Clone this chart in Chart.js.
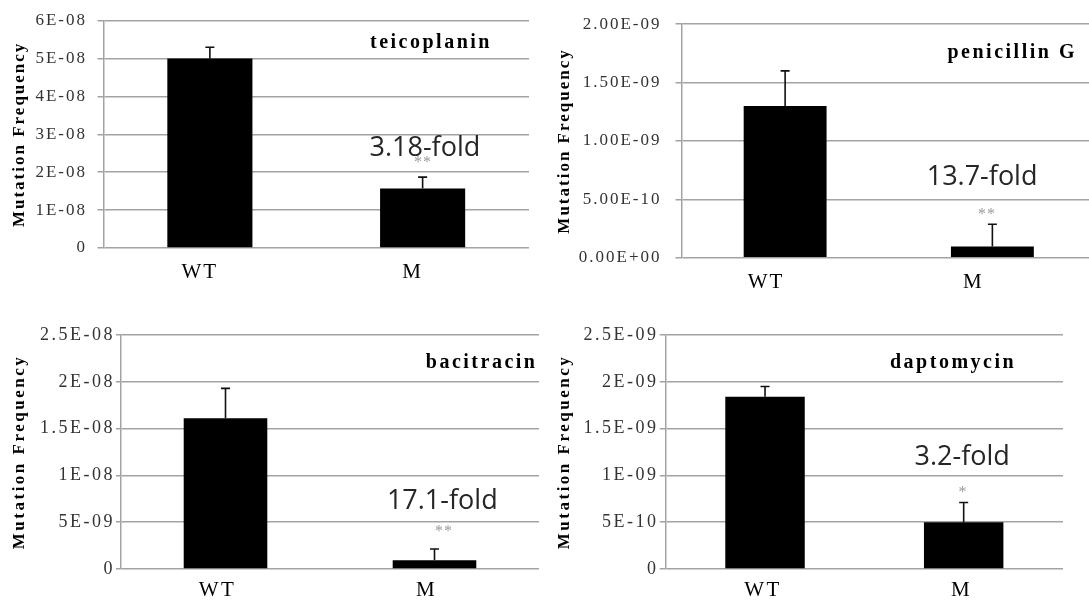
<!DOCTYPE html>
<html>
<head>
<meta charset="utf-8">
<script src="https://cdn.jsdelivr.net/npm/chart.js@4.4.1/dist/chart.umd.min.js"></script>
<style>
  html, body { margin: 0; padding: 0; background: #fff; overflow: hidden; width: 1089px; height: 604px; }
  canvas { position: absolute; }
</style>
</head>
<body>
<canvas id="teico" width="545" height="300" style="left:0;top:0"></canvas>
<canvas id="peni" width="551" height="300" style="left:545px;top:0"></canvas>
<canvas id="baci" width="545" height="304" style="left:0;top:300px"></canvas>
<canvas id="dapto" width="544" height="304" style="left:545px;top:300px"></canvas>
<script>
// Strains on the category axis
const groups = ['WT', 'M'];

// Mutation frequency (mean) and upper error (SD) per antibiotic
const teicoplaninFreq = [5.0e-8, 1.57e-8];
const teicoplaninErr  = [0.3e-8, 0.30e-8];
const penicillinFreq  = [1.30e-9, 9.5e-11];
const penicillinErr   = [0.30e-9, 1.91e-10];
const bacitracinFreq  = [1.61e-8, 9.4e-10];
const bacitracinErr   = [0.32e-8, 1.19e-9];
const daptomycinFreq  = [1.84e-9, 5.0e-10];
const daptomycinErr   = [1.1e-10, 2.1e-10];

// Y tick values and their printed labels
const teicoplaninTicks  = [0, 1e-8, 2e-8, 3e-8, 4e-8, 5e-8, 6e-8];
const teicoplaninLabels = ['0', '1E-08', '2E-08', '3E-08', '4E-08', '5E-08', '6E-08'];
const penicillinTicks   = [0, 5e-10, 1e-9, 1.5e-9, 2e-9];
const penicillinLabels  = ['0.00E+00', '5.00E-10', '1.00E-09', '1.50E-09', '2.00E-09'];
const bacitracinTicks   = [0, 5e-9, 1e-8, 1.5e-8, 2e-8, 2.5e-8];
const bacitracinLabels  = ['0', '5E-09', '1E-08', '1.5E-08', '2E-08', '2.5E-08'];
const daptomycinTicks   = [0, 5e-10, 1e-9, 1.5e-9, 2e-9, 2.5e-9];
const daptomycinLabels  = ['0', '5E-10', '1E-09', '1.5E-09', '2E-09', '2.5E-09'];

// Panel annotations: drug name, fold change, significance marks
const teicoplaninNote = { name: 'teicoplanin',  fold: '3.18-fold', stars: '**' };
const penicillinNote  = { name: 'penicillin G', fold: '13.7-fold', stars: '**' };
const bacitracinNote  = { name: 'bacitracin',   fold: '17.1-fold', stars: '**' };
const daptomycinNote  = { name: 'daptomycin',   fold: '3.2-fold',  stars: '*' };

const GRID = '#a3a3a3';
const SERIF = '"Liberation Serif", "Times New Roman", serif';
const SANS = '"Open Sans", "Noto Sans", sans-serif';

// Wider letter spacing for axis text
const spacingPlugin = {
  id: 'spacing',
  beforeDraw(chart, args, opts) { chart.ctx.letterSpacing = (opts.px || 0) + 'px'; }
};

// Upper-only error bars with caps
const errorBarPlugin = {
  id: 'errorBars',
  afterDatasetsDraw(chart, args, opts) {
    const ctx = chart.ctx, y = chart.scales.y;
    const ds = chart.data.datasets[0];
    const meta = chart.getDatasetMeta(0);
    ctx.save();
    ctx.strokeStyle = '#111';
    ctx.lineWidth = 1.6;
    meta.data.forEach((bar, i) => {
      const v = ds.data[i], e = opts.err[i];
      const y0 = y.getPixelForValue(v), y1 = y.getPixelForValue(v + e);
      ctx.beginPath();
      ctx.moveTo(bar.x, y0); ctx.lineTo(bar.x, y1);
      ctx.moveTo(bar.x - 4.5, y1); ctx.lineTo(bar.x + 4.5, y1);
      ctx.stroke();
    });
    ctx.restore();
  }
};

// Drug name, fold change and significance stars
const notesPlugin = {
  id: 'notes',
  afterDraw(chart, args, o) {
    const ctx = chart.ctx;
    ctx.save();
    ctx.textBaseline = 'middle';
    ctx.textAlign = 'left';
    ctx.fillStyle = '#000';
    ctx.letterSpacing = '2.5px';
    ctx.font = 'bold 20px ' + SERIF;
    ctx.fillText(o.note.name, o.nameX, o.nameY);
    ctx.letterSpacing = '0px';
    ctx.fillStyle = '#262626';
    ctx.font = '27px ' + SANS;
    ctx.fillText(o.note.fold, o.foldX, o.foldY);
    ctx.textAlign = 'center';
    ctx.fillStyle = '#9a9a9a';
    ctx.font = '16px ' + SERIF;
    ctx.letterSpacing = '1px';
    ctx.fillText(o.note.stars, o.starX, o.starY);
    ctx.restore();
  }
};

function panel(id, freq, err, ticks, labels, note, L) {
  return new Chart(document.getElementById(id), {
    type: 'bar',
    data: {
      labels: groups,
      datasets: [{
        data: freq,
        backgroundColor: '#000',
        borderWidth: 0,
        barPercentage: 0.8,
        categoryPercentage: 0.5
      }]
    },
    plugins: [spacingPlugin, errorBarPlugin, notesPlugin],
    options: {
      responsive: false,
      animation: false,
      devicePixelRatio: 1,
      layout: { padding: { left: 0, top: L.top, right: L.right, bottom: 0 } },
      plugins: {
        legend: { display: false },
        tooltip: { enabled: false },
        spacing: { px: L.spacing },
        errorBars: { err: err },
        notes: Object.assign({ note: note }, L.notes)
      },
      scales: {
        x: {
          afterFit(s) { s.height = L.xHeight; },
          grid: { display: false, drawTicks: false },
          border: { display: false },
          ticks: {
            color: '#000',
            padding: L.xPad,
            labelOffset: L.xOffset,
            font: { family: SERIF, size: 21 }
          }
        },
        y: {
          min: ticks[0],
          max: ticks[ticks.length - 1],
          afterFit(s) { s.width = L.yWidth; },
          afterBuildTicks(s) { s.ticks = ticks.map(v => ({ value: v })); },
          grid: { color: GRID, lineWidth: 1.5, tickLength: L.tickLen, tickColor: GRID, drawTicks: true },
          border: { display: true, color: GRID, width: 1.5 },
          ticks: {
            color: '#333',
            padding: L.tickPad,
            font: { family: SERIF, size: L.tickSize },
            callback: (v, i) => labels[i]
          },
          title: {
            display: true,
            text: 'Mutation Frequency',
            color: '#000',
            font: { family: SERIF, size: 17, weight: 'bold' },
            padding: { top: 9, bottom: 0 }
          }
        }
      }
    }
  });
}

panel('teico', teicoplaninFreq, teicoplaninErr, teicoplaninTicks, teicoplaninLabels, teicoplaninNote, {
  top: 15, right: 16, yWidth: 103.5, xHeight: 52, tickSize: 17, spacing: 2,
  tickLen: 6, tickPad: 10.5, xPad: 12, xOffset: -10,
  notes: { nameX: 370, nameY: 43, foldX: 369.5, foldY: 148, starX: 423, starY: 163 }
});
panel('peni', penicillinFreq, penicillinErr, penicillinTicks, penicillinLabels, penicillinNote, {
  top: 15, right: 0, yWidth: 136.5, xHeight: 42.3, tickSize: 17, spacing: 2,
  tickLen: 6, tickPad: 14, xPad: 12, xOffset: -19,
  notes: { nameX: 402.5, nameY: 53, foldX: 381.7, foldY: 177, starX: 442, starY: 215 }
});
panel('baci', bacitracinFreq, bacitracinErr, bacitracinTicks, bacitracinLabels, bacitracinNote, {
  top: 35, right: 6, yWidth: 121, xHeight: 35, tickSize: 18, spacing: 2.5,
  tickLen: 5, tickPad: 1, xPad: 8.4, xOffset: -8,
  notes: { nameX: 425.8, nameY: 63, foldX: 386.9, foldY: 201, starX: 444, starY: 232 }
});
panel('dapto', daptomycinFreq, daptomycinErr, daptomycinTicks, daptomycinLabels, daptomycinNote, {
  top: 35, right: 26, yWidth: 120.7, xHeight: 35, tickSize: 18, spacing: 2.5,
  tickLen: 6, tickPad: 1.2, xPad: 8.4, xOffset: -2,
  notes: { nameX: 345, nameY: 63, foldX: 369.5, foldY: 157, starX: 418, starY: 192.7 }
});
</script>
</body>
</html>
